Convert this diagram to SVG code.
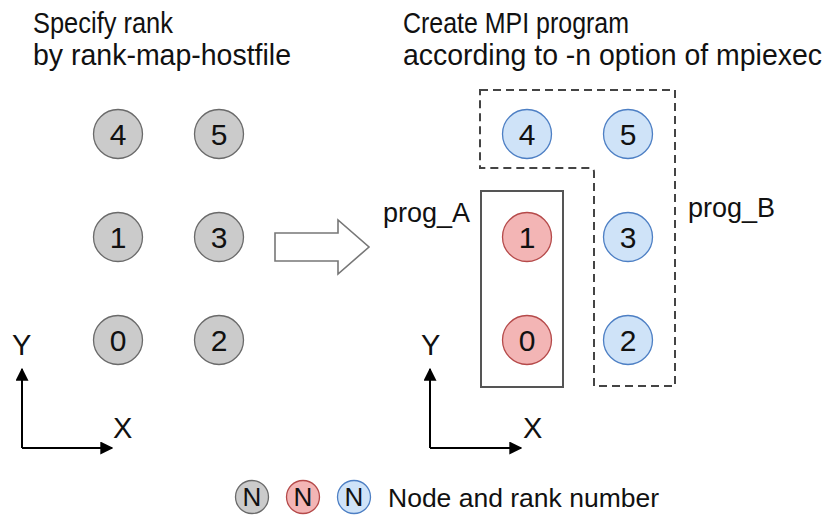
<svg xmlns="http://www.w3.org/2000/svg" width="829" height="523" viewBox="0 0 829 523">
<style>
  .t { font-family: "Liberation Sans", Arial, sans-serif; fill: #111; }
  .title { font-size: 29px; }
  .num { font-size: 30px; text-anchor: middle; }
  .lbl { font-size: 27px; }
  .ax { font-size: 29px; }
  .gray { fill: #cbcbcb; stroke: #6a6a6a; stroke-width: 1.3; }
  .red { fill: #f3b5b5; stroke: #b54a4a; stroke-width: 1.3; }
  .blue { fill: #cfe3f8; stroke: #4d7fc4; stroke-width: 1.3; }
  .axis { stroke: #000; stroke-width: 2; fill: none; }
</style>
<defs>
  <marker id="ah" viewBox="0 0 10 10" refX="9" refY="5" markerWidth="6.5" markerHeight="6.5" orient="auto" markerUnits="strokeWidth">
    <path d="M0,0 L10,5 L0,10 z" fill="#000"/>
  </marker>
</defs>

<!-- titles -->
<text class="t title" x="33" y="33" textLength="140" lengthAdjust="spacingAndGlyphs">Specify rank</text>
<text class="t title" x="33" y="65" textLength="258" lengthAdjust="spacingAndGlyphs">by rank-map-hostfile</text>
<text class="t title" x="403" y="33" textLength="226" lengthAdjust="spacingAndGlyphs">Create MPI program</text>
<text class="t title" x="403" y="65" textLength="419" lengthAdjust="spacingAndGlyphs">according to -n option of mpiexec</text>

<!-- left grid -->
<g id="L4"><circle class="gray" cx="118" cy="134" r="24.5"/><text class="t num" x="118" y="145">4</text></g>
<g id="L5"><circle class="gray" cx="219" cy="134" r="24.5"/><text class="t num" x="219" y="145">5</text></g>
<g id="L1"><circle class="gray" cx="118" cy="237" r="24.5"/><text class="t num" x="118" y="248">1</text></g>
<g id="L3"><circle class="gray" cx="219" cy="237" r="24.5"/><text class="t num" x="219" y="248">3</text></g>
<g id="L0"><circle class="gray" cx="118" cy="340" r="24.5"/><text class="t num" x="118" y="351">0</text></g>
<g id="L2"><circle class="gray" cx="219" cy="340" r="24.5"/><text class="t num" x="219" y="351">2</text></g>

<!-- block arrow -->
<g id="arrow">
  <path d="M275,233 L338,233 L338,220 L369,247 L338,274 L338,261 L275,261 Z" fill="#fff" stroke="#777" stroke-width="1.6"/>
</g>

<!-- groups -->
<g id="prog_B">
  <path d="M480,90 L675,90 L675,386 L594,386 L594,172 Q594,168 590,168 L480,168 Z" fill="none" stroke="#444" stroke-width="2" stroke-dasharray="8,5"/>
  <text class="t lbl" x="688" y="217">prog_B</text>
</g>
<g id="prog_A">
  <rect x="481" y="191" width="82" height="196" fill="none" stroke="#555" stroke-width="2"/>
  <text class="t lbl" x="383" y="222">prog_A</text>
</g>

<!-- right grid -->
<g id="R4"><circle class="blue" cx="527" cy="134" r="24.5"/><text class="t num" x="527" y="145">4</text></g>
<g id="R5"><circle class="blue" cx="628" cy="134" r="24.5"/><text class="t num" x="628" y="145">5</text></g>
<g id="R1"><circle class="red" cx="527" cy="237" r="24.5"/><text class="t num" x="527" y="248">1</text></g>
<g id="R3"><circle class="blue" cx="628" cy="237" r="24.5"/><text class="t num" x="628" y="248">3</text></g>
<g id="R0"><circle class="red" cx="527" cy="340" r="24.5"/><text class="t num" x="527" y="351">0</text></g>
<g id="R2"><circle class="blue" cx="628" cy="340" r="24.5"/><text class="t num" x="628" y="351">2</text></g>

<!-- axes -->
<g id="connectors">
  <path class="axis" d="M22,448 L22,369" marker-end="url(#ah)"/>
  <path class="axis" d="M22,448 L112,448" marker-end="url(#ah)"/>
  <path class="axis" d="M430,448 L430,369" marker-end="url(#ah)"/>
  <path class="axis" d="M430,448 L521,448" marker-end="url(#ah)"/>
</g>
<text class="t ax" x="12" y="355">Y</text>
<text class="t ax" x="113" y="438">X</text>
<text class="t ax" x="421" y="355">Y</text>
<text class="t ax" x="523" y="438">X</text>

<!-- legend -->
<g id="legend">
  <circle class="gray" cx="252" cy="497" r="16.5"/><text class="t" x="252" y="506" font-size="26" text-anchor="middle">N</text>
  <circle class="red" cx="303" cy="497" r="16.5"/><text class="t" x="303" y="506" font-size="26" text-anchor="middle">N</text>
  <circle class="blue" cx="354" cy="497" r="16.5"/><text class="t" x="354" y="506" font-size="26" text-anchor="middle">N</text>
  <text class="t" x="388" y="507" font-size="26.5">Node and rank number</text>
</g>
</svg>
